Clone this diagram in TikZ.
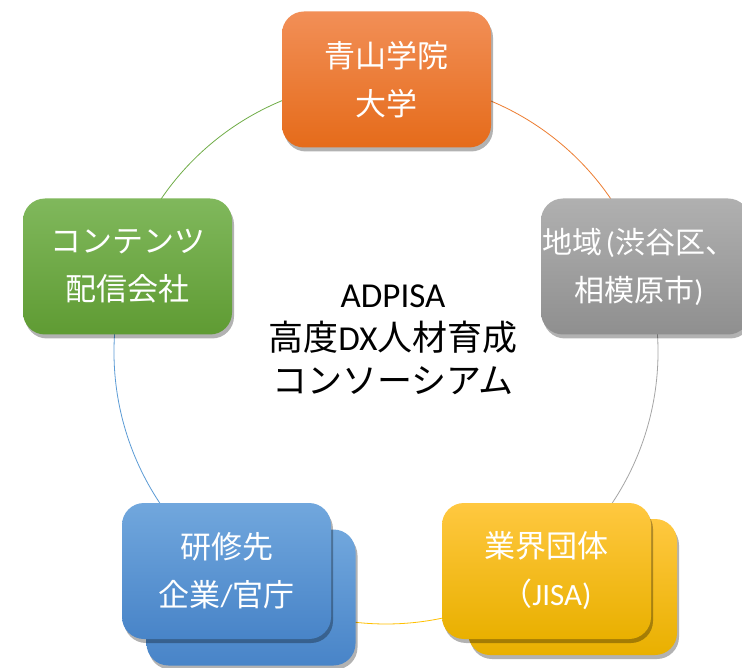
\documentclass[tikz,border=0pt]{standalone}
\usepackage{fontspec}
\setmainfont{Carlito}
\newfontfamily\cjk{Noto Sans CJK JP}
\usetikzlibrary{shadows}
\definecolor{orA}{HTML}{F28F57}
\definecolor{orB}{HTML}{F07B2A}
\definecolor{orC}{HTML}{E56B1A}
\definecolor{grA}{HTML}{B0B0B0}
\definecolor{grB}{HTML}{A2A2A2}
\definecolor{grC}{HTML}{8F8F8F}
\definecolor{yeA}{HTML}{FFC840}
\definecolor{yeB}{HTML}{FFC000}
\definecolor{yeC}{HTML}{E9B000}
\definecolor{blA}{HTML}{71A7DD}
\definecolor{blB}{HTML}{5899D6}
\definecolor{blC}{HTML}{4884C8}
\definecolor{gnA}{HTML}{80B85C}
\definecolor{gnB}{HTML}{6EAA40}
\definecolor{gnC}{HTML}{5F9B33}
\definecolor{lnOr}{HTML}{ED7D31}
\definecolor{lnGr}{HTML}{A5A5A5}
\definecolor{lnYe}{HTML}{FFC000}
\definecolor{lnBl}{HTML}{5B9BD5}
\definecolor{lnGn}{HTML}{70AD47}
\begin{document}
\begin{tikzpicture}[x=1pt,y=1pt,
  box/.style={rounded corners=22pt, minimum width=209pt, minimum height=136pt,
    inner sep=0pt, text=white, align=center,
    font=\fontsize{31}{48}\selectfont,
    drop shadow={shadow xshift=2pt, shadow yshift=-4pt, opacity=0.3, fill=black}},
  orbox/.style={box, top color=orA, middle color=orB, bottom color=orC},
  grbox/.style={box, top color=grA, middle color=grB, bottom color=grC},
  yebox/.style={box, top color=yeA, middle color=yeB, bottom color=yeC},
  blbox/.style={box, top color=blA, middle color=blB, bottom color=blC},
  gnbox/.style={box, top color=gnA, middle color=gnB, bottom color=gnC},
  boxtext/.style={text=white, align=center, inner sep=0pt, font=\fontsize{30}{48}\selectfont},
  ring/.style={line width=0.8pt}]
\useasboundingbox[fill=white] (0,0) rectangle (742,-668);
\coordinate (c) at (386,-352);
% ring segments
\draw[ring, lnOr] ([shift={(90:272)}]c) arc[start angle=90, end angle=18, radius=272];
\draw[ring, lnGr] ([shift={(18:272)}]c) arc[start angle=18, end angle=-54, radius=272];
\draw[ring, lnYe] ([shift={(-54:272)}]c) arc[start angle=-54, end angle=-126, radius=272];
\draw[ring, lnBl] ([shift={(-126:272)}]c) arc[start angle=-126, end angle=-198, radius=272];
\draw[ring, lnGn] ([shift={(162:272)}]c) arc[start angle=162, end angle=90, radius=272];
% back boxes
\node[blbox] (blback) at (251,-597.5) {};
\node[yebox] (yeback) at (572.5,-587) {};
% front boxes
\node[orbox] (univ) at (386.5,-79.5) {{\cjk 青山学院}\\{\cjk 大学}};
\node[grbox] (region) at (645.5,-266.5) {};
\node[boxtext] (regiontext) at (639,-266.5) {{\cjk 地域}\hspace{3pt}({\cjk 渋谷区、}\\{\cjk 相模原市})};
\node[gnbox] (content) at (127.5,-266.5) {{\cjk コンテンツ}\\{\cjk 配信会社}};
\node[blbox] (company) at (226.5,-571) {{\cjk 研修先}\\{\cjk 企業}/{\cjk 官庁}};
\node[yebox] (industry) at (546.5,-571) {{\cjk 業界団体}\\{\cjk （}JISA)};
% center title
\node[align=center, font=\fontsize{35}{43}\selectfont, text=black] (title) at (393,-340)
  {ADPISA\\{\cjk 高度}DX{\cjk 人材育成}\\{\cjk コンソーシアム}};
\end{tikzpicture}
\end{document}
